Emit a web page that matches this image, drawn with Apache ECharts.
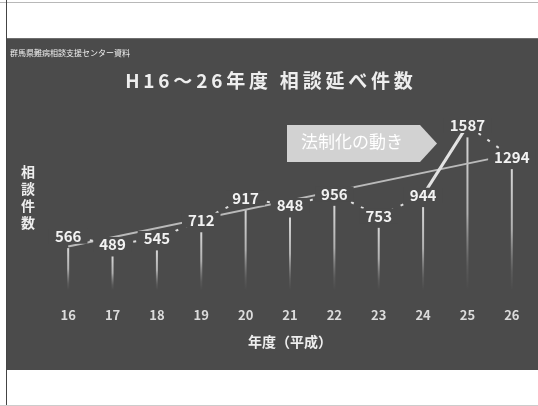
<!DOCTYPE html>
<html>
<head>
<meta charset="utf-8">
<script src="https://cdn.jsdelivr.net/npm/echarts@6/dist/echarts.min.js"></script>
<style>
  html, body { margin: 0; padding: 0; background: #fff; }
  #chart { width: 538px; height: 406px; }
</style>
</head>
<body>
<div id="chart"></div>
<script>
var years = ['16', '17', '18', '19', '20', '21', '22', '23', '24', '25', '26'];
var counts = [566, 489, 545, 712, 917, 848, 956, 753, 944, 1587, 1294];
// trend line ends (H16 and H26)
var trendYears = ['16', '26'];
var trendValues = [470, 1320];
// the solid part of the connector
var lawYears = ['24', '25'];

var font = '"Noto Sans CJK JP", "Noto Sans", sans-serif';
var panel = '#4b4b4b';

// the slide title is letter-spaced, so put a thin space between the characters
var titleText = 'H16～26年度 相談延べ件数';
var spacedTitle = titleText.split('').join('\u2009');

var myChart = echarts.init(document.getElementById('chart'));

var option = {
  backgroundColor: '#fff',
  animation: false,
  title: {
    text: spacedTitle,
    left: 'center',
    top: 66,
    textStyle: {
      color: '#eeeeee',
      fontSize: 19,
      fontWeight: 'bold',
      fontFamily: font
    }
  },
  grid: {
    left: 46,
    right: 4,
    top: 60,
    bottom: 116
  },
  xAxis: {
    type: 'category',
    data: years,
    axisLine: { show: false },
    axisTick: { show: false },
    axisLabel: {
      color: '#dcdcdc',
      fontSize: 13,
      fontWeight: 'bold',
      fontFamily: font,
      margin: 19
    },
    name: '年度（平成）',
    nameLocation: 'middle',
    nameGap: 45,
    nameTextStyle: {
      color: '#eeeeee',
      fontSize: 14,
      fontWeight: 'bold',
      fontFamily: font
    }
  },
  yAxis: [
    { // bars
      type: 'value',
      min: 180,
      max: 2300,
      startValue: 180,
      show: false
    },
    { // labels, connector and trend, a little higher than the bars
      type: 'value',
      min: 70,
      max: 2190,
      show: false
    }
  ],
  graphic: [
    { type: 'rect', z: -10, silent: true,
      shape: { x: 6, y: 38, width: 532, height: 332 },
      style: { fill: panel } },
    { type: 'line', z: -9, silent: true,
      shape: { x1: 6, y1: 38.5, x2: 538, y2: 38.5 },
      style: { stroke: '#6e6e6e', lineWidth: 1 } },
    { type: 'line', z: -9, silent: true,
      shape: { x1: 0, y1: 2.5, x2: 538, y2: 2.5 },
      style: { stroke: '#b8b8b8', lineWidth: 1 } },
    { type: 'line', z: -9, silent: true,
      shape: { x1: 6.5, y1: 0, x2: 6.5, y2: 406 },
      style: { stroke: '#444', lineWidth: 1 } },
    { type: 'line', z: -9, silent: true,
      shape: { x1: 0, y1: 405.5, x2: 538, y2: 405.5 },
      style: { stroke: '#cccccc', lineWidth: 1 } },
    { type: 'text', left: 10, top: 49, silent: true,
      style: { text: '群馬県難病相談支援センター資料', fill: '#f0f0f0', fontSize: 8, fontFamily: font } },
    { type: 'text', left: 21, top: 163, silent: true,
      style: { text: '相\n談\n件\n数', fill: '#eeeeee', fontSize: 14, fontWeight: 'bold',
               lineHeight: 17, fontFamily: font } },
    { type: 'polygon', silent: true,
      shape: { points: [[287, 125], [420, 125], [437, 143.5], [420, 162], [287, 162]] },
      style: { fill: '#d2d2d2' } },
    { type: 'text', left: 301, top: 133, silent: true,
      style: { text: '法制化の動き', fill: '#ffffff', fontSize: 17, fontFamily: font } }
  ],
  series: [
    {
      name: '相談件数',
      type: 'bar',
      yAxisIndex: 0,
      data: counts,
      barWidth: 2,
      silent: true,
      z: 2,
      itemStyle: {
        color: new echarts.graphic.LinearGradient(0, 0, 0, 1, [
          { offset: 0, color: '#d6d6d6' },
          { offset: 0.5, color: '#b0b0b0' },
          { offset: 0.85, color: 'rgba(150,150,150,0.2)' },
          { offset: 1, color: 'rgba(150,150,150,0)' }
        ])
      }
    },
    {
      name: '近似',
      type: 'line',
      yAxisIndex: 1,
      data: trendYears.map(function (y, i) { return [y, trendValues[i]]; }),
      symbol: 'none',
      silent: true,
      z: 3,
      lineStyle: { color: '#bababa', width: 2 }
    },
    {
      name: '法制化',
      type: 'line',
      yAxisIndex: 1,
      data: counts.map(function (v, i) { return lawYears.indexOf(years[i]) >= 0 ? v : '-'; }),
      symbol: 'none',
      silent: true,
      z: 4,
      lineStyle: { color: '#e4e4e4', width: 3 }
    },
    {
      name: 'ラベル',
      type: 'line',
      yAxisIndex: 1,
      data: counts,
      symbol: 'circle',
      symbolSize: 1,
      silent: true,
      z: 5,
      itemStyle: { color: 'rgba(0,0,0,0)' },
      lineStyle: { color: '#dddddd', width: 2, type: [3, 8] },
      label: {
        show: true,
        position: 'inside',
        formatter: '{c}',
        color: '#f2f2f2',
        fontSize: 15,
        fontWeight: 'bold',
        fontFamily: font,
        backgroundColor: panel,
        padding: [0, 6]
      }
    }
  ]
};
myChart.setOption(option, true);
</script>
</body>
</html>
